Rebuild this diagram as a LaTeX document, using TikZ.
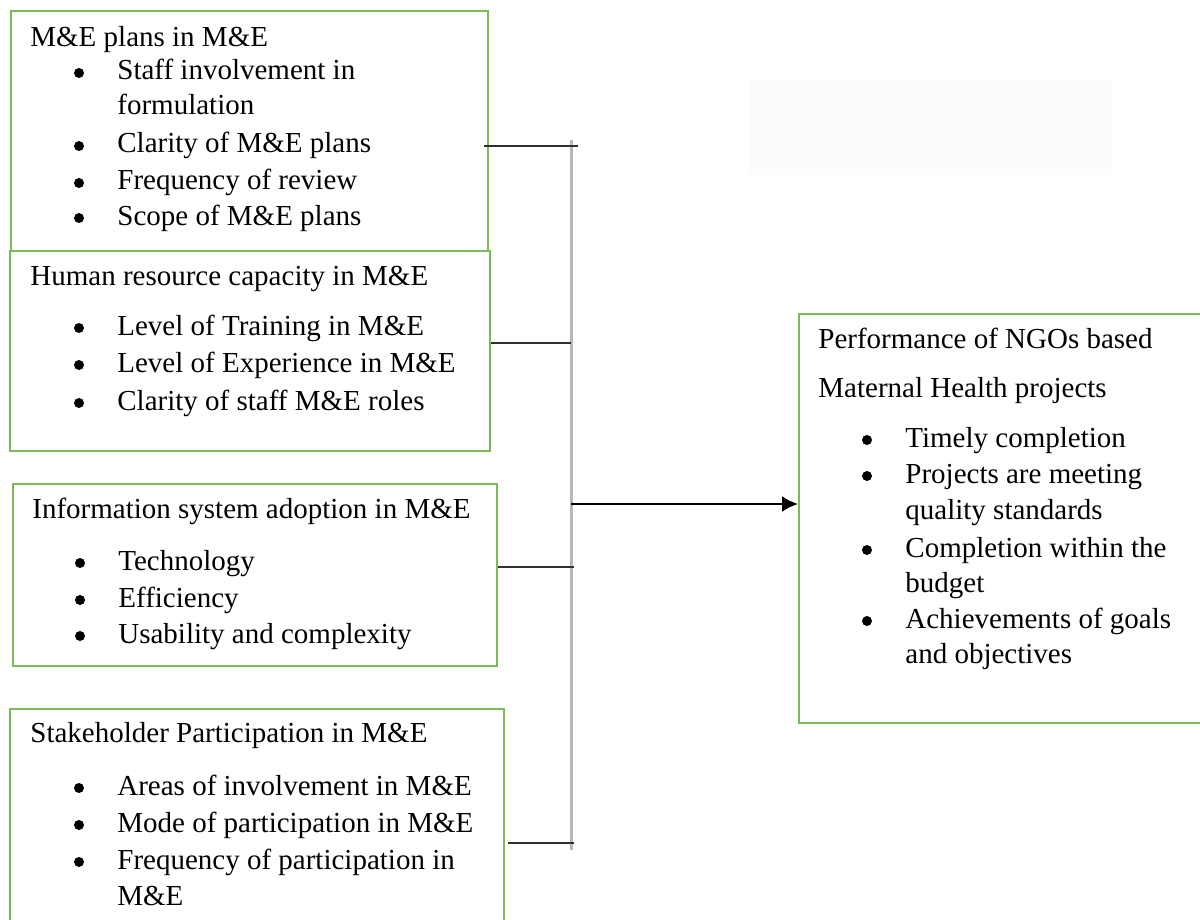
\documentclass[tikz,border=0pt]{standalone}
\usepackage{fontspec}
\setmainfont{Liberation Serif}
\usetikzlibrary{arrows.meta}
\definecolor{boxgreen}{HTML}{7CB95A}
\definecolor{spinegray}{HTML}{B8B8B8}
\definecolor{connblack}{HTML}{303030}
\newcommand\bitem[4]{%
  \node[bulletdot] (#1d) at ({#2-38},{#3-7}) {};
  \node[txt] (#1) at (#2,#3) {#4};}
\begin{document}
\begin{tikzpicture}[x=0.5pt,y=-0.5pt,
  box/.style={draw=boxgreen,line width=1pt,inner sep=0pt,anchor=north west,rectangle},
  txt/.style={anchor=base west,inner sep=0pt,font=\fontsize{14.5}{18}\selectfont},
  bulletdot/.style={circle,fill=black,inner sep=0pt,minimum size=5pt},
  link/.style={draw=connblack,line width=0.9pt},
  spine/.style={draw=spinegray,line width=1.5pt}]
\useasboundingbox (0,0) rectangle (1200,920);
\clip (0,0) rectangle (1200,920);

\fill[black!1] (750,80) rectangle (1113,175);

% boxes
\node[box,minimum width=238.5pt,minimum height=120pt] (b1) at (10,10) {};
\node[box,minimum width=240pt,minimum height=100pt] (b2) at (9,250) {};
\node[box,minimum width=242pt,minimum height=91pt] (b3) at (12,483) {};
\node[box,minimum width=247pt,minimum height=126pt] (b4) at (9,708) {};
\node[box,minimum width=221pt,minimum height=204.5pt] (b5) at (798,313) {};

% box 1
\node[txt] (t1) at (30,47) {M\&E plans in M\&E};
\bitem{a1}{117}{80}{Staff involvement in}
\node[txt] (a1c) at (117,115) {formulation};
\bitem{a2}{117}{153}{Clarity of M\&E plans}
\bitem{a3}{117}{190}{Frequency of review}
\bitem{a4}{117}{225}{Scope of M\&E plans}

% box 2
\node[txt] (t2) at (30,285) {Human resource capacity in M\&E};
\bitem{c1}{117}{335}{Level of Training in M\&E}
\bitem{c2}{117}{372}{Level of Experience in M\&E}
\bitem{c3}{117}{410}{Clarity of staff M\&E roles}

% box 3
\node[txt] (t3) at (32,518) {Information system adoption in M\&E};
\bitem{e1}{118}{570}{Technology}
\bitem{e2}{118}{607}{Efficiency}
\bitem{e3}{118}{643}{Usability and complexity}

% box 4
\node[txt] (t4) at (30,742) {Stakeholder Participation in M\&E};
\bitem{g1}{117}{795}{Areas of involvement in M\&E}
\bitem{g2}{117}{832}{Mode of participation in M\&E}
\bitem{g3}{117}{869}{Frequency of participation in}
\node[txt] (g3c) at (117,905) {M\&E};

% right box
\node[txt] (t5) at (818,348) {Performance of NGOs based};
\node[txt] (t5b) at (818,397) {Maternal Health projects};
\bitem{p1}{905}{447}{Timely completion}
\bitem{p2}{905}{483}{Projects are meeting}
\node[txt] (p2c) at (905,519) {quality standards};
\bitem{p3}{905}{557}{Completion within the}
\node[txt] (p3c) at (905,592) {budget};
\bitem{p4}{905}{628}{Achievements of goals}
\node[txt] (p4c) at (905,663) {and objectives};

% connectors
\coordinate (stop) at (571,140);
\coordinate (sbot) at (571,850);
\draw[spine] (stop) -- (sbot);
\coordinate (j1) at (578,146);
\coordinate (j2) at (571,343);
\coordinate (j3) at (574,567);
\coordinate (j4) at (574,843);
\coordinate (ja) at (571,504);
\draw[link] ([xshift=-2.5pt]b1.east |- j1) -- (j1);
\draw[link] (b2.east |- j2) -- (j2);
\draw[link] (b3.east |- j3) -- (j3);
\draw[link] ([xshift=1.5pt]b4.east |- j4) -- (j4);
\draw[draw=black,line width=1.1pt,-{Latex[length=8pt,width=8pt]}] (ja) -- (b5.west |- ja);
\end{tikzpicture}
\end{document}
